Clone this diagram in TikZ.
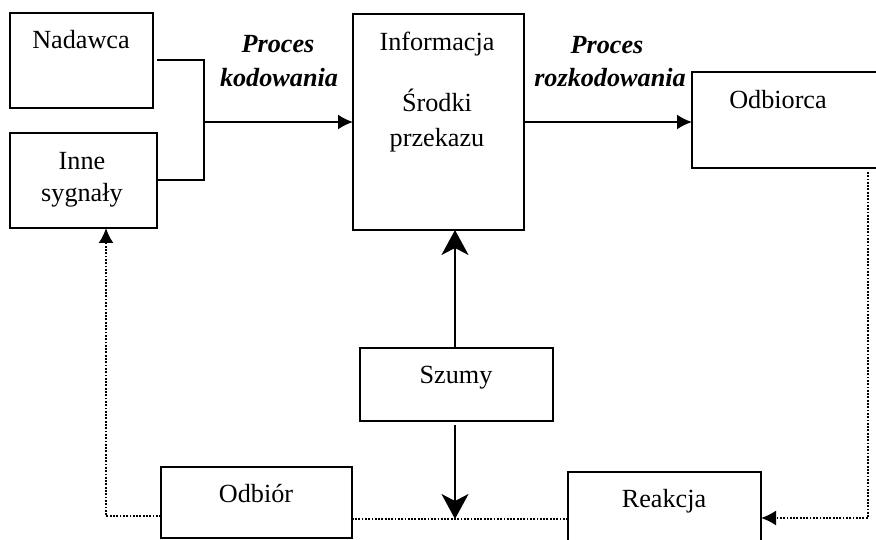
\documentclass[tikz,border=0pt]{standalone}
\usepackage{fontspec}
\setmainfont{Liberation Serif}
\usetikzlibrary{arrows.meta}
\begin{document}
\begin{tikzpicture}[x=1pt,y=-1pt,
  box/.style={draw, line width=2pt, inner sep=0pt, outer sep=0pt},
  txt/.style={anchor=base, inner sep=0pt, font=\fontsize{26.2}{36}\selectfont},
  btxt/.style={txt, font=\fontsize{26.2}{36}\selectfont\bfseries\itshape},
  conn/.style={line width=2pt},
  dots/.style={line width=2pt, dash pattern=on 1.8pt off 1.5pt},
  tipA/.style={-{Latex[length=15pt,width=15pt]}},
  tipS/.style={-{Stealth[length=25pt,width=27pt,inset=7pt]}}]
\clip (0,0) rectangle (876,540);
% boxes
\node[box, minimum width=143pt, minimum height=95pt] (nad) at (81.5,60.5) {};
\node[box, minimum width=147pt, minimum height=95pt] (inne) at (83.5,180.5) {};
\node[box, minimum width=171pt, minimum height=216pt] (info) at (438.5,122) {};
\node[box, minimum width=190pt, minimum height=96pt] (odb) at (787,120) {};
\node[box, minimum width=193pt, minimum height=73pt] (szumy) at (456.5,384.5) {};
\node[box, minimum width=191pt, minimum height=71pt] (odbior) at (256.5,502.5) {};
\node[box, minimum width=193pt, minimum height=76pt] (reak) at (664.5,510) {};
% texts
\node[txt] (tnad) at (81,49) {Nadawca};
\node[txt] (tinne1) at (82,170) {Inne};
\node[txt] (tinne2) at (82,202) {sygnały};
\node[btxt] (tp1) at (278,53) {Proces};
\node[btxt] (tk1) at (279,87) {kodowania};
\node[txt] (tinfo) at (437,51) {Informacja};
\node[txt] (tsr) at (437,112) {Środki};
\node[txt] (tprz) at (437,147) {przekazu};
\node[btxt] (tp2) at (607,54) {Proces};
\node[btxt] (tk2) at (610,87) {rozkodowania};
\node[txt] (todb) at (778,109) {Odbiorca};
\node[txt] (tsz) at (456,383) {Szumy};
\node[txt] (todbior) at (256,502) {Odbiór};
\node[txt] (treak) at (664,507) {Reakcja};
% connectors
\coordinate (j) at (204,122);
\coordinate (c1) at (868,518);
\coordinate (c2) at (455,519);
\coordinate (c3) at (106,516);
\draw[conn, shorten <=4pt] (nad.east) -| (j);
\draw[conn, shorten <=1pt] (inne.east) -| (j);
\draw[conn, tipA] (j) -- (info.west);
\draw[conn, tipA] (info.east) -- (info.east -| odb.west);
\draw[conn, tipS] (szumy.north -| c2) -- (info.south -| c2);
\draw[conn, tipS, shorten <=4pt] (szumy.south -| c2) -- (c2);
\draw[dots, tipA, shorten <=4pt] (odb.south -| c1) -- (c1) -- (c1 -| reak.east);
\draw[dots] (reak.west |- c2) -- (odbior.east |- c2);
\draw[dots, tipA] (odbior.west |- c3) -- (c3) -- (c3 |- inne.south);
\end{tikzpicture}
\end{document}
